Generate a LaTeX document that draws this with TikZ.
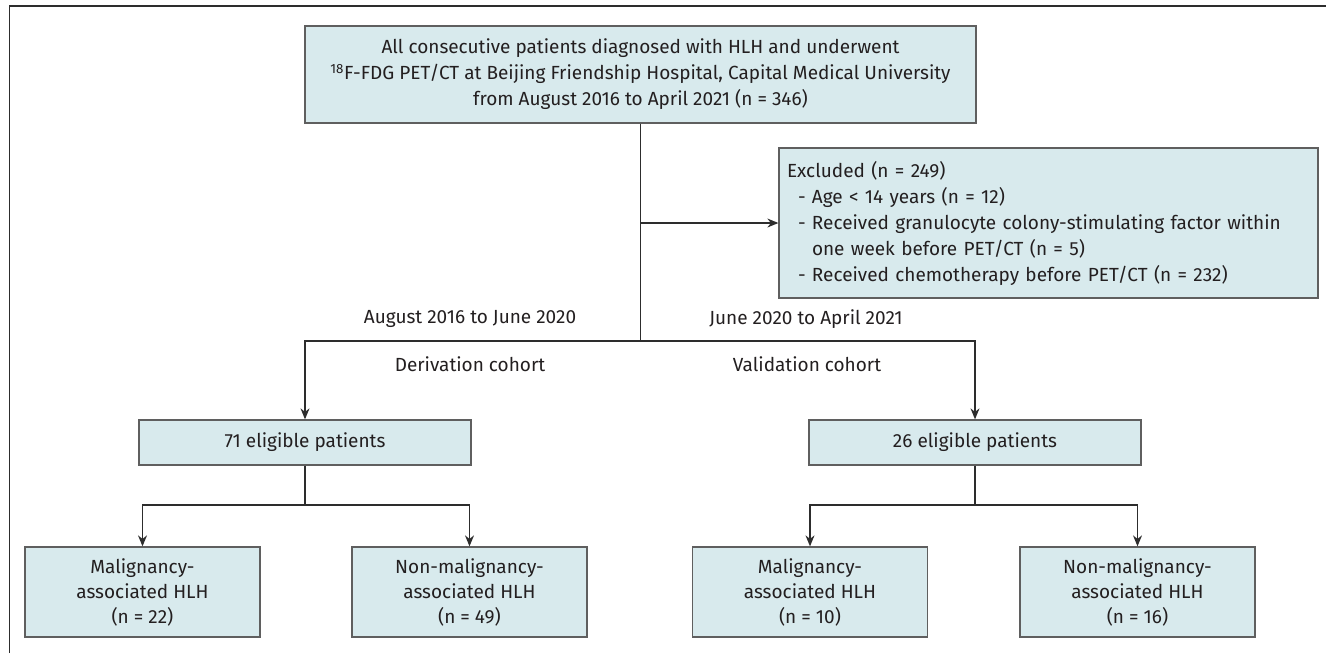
\documentclass[tikz,border=0pt]{standalone}
\usepackage{fontspec}
\setmainfont{Fira Sans}
\usetikzlibrary{arrows.meta}
\definecolor{boxfill}{RGB}{216,234,237}
\definecolor{boxdraw}{RGB}{95,95,95}
\definecolor{linecol}{RGB}{45,45,45}
\definecolor{txt}{RGB}{35,31,32}
\tikzset{
  box/.style={draw=boxdraw, fill=boxfill, line width=1.3pt, inner sep=0pt, align=center, text=txt, font=\fontsize{19}{25}\selectfont},
  conn/.style={draw=linecol, line width=1.3pt},
  arr/.style={conn, -{Stealth[length=11pt,width=9pt]}},
  lbl/.style={text=txt, inner sep=0pt, font=\fontsize{19}{23}\selectfont},
  frameline/.style={draw=linecol, line width=1.3pt}
}
\begin{document}
\begin{tikzpicture}[x=1pt,y=-1pt]
\useasboundingbox (0,0) rectangle (1330,653);
\draw[frameline] (9.5,653) -- (9.5,6) -- (1326,6);

\node[box, minimum width=671pt, minimum height=97pt, font=\fontsize{19}{26}\selectfont] (top) at (640.5,74.5)
  {All consecutive patients diagnosed with HLH and underwent\\
   \textsuperscript{18}F-FDG PET/CT at Beijing Friendship Hospital, Capital Medical University\\
   from August 2016 to April 2021 (n = 346)};

\node[box, align=left, text width=523pt, inner xsep=8pt, minimum height=150pt, font=\fontsize{19}{26}\selectfont] (excl) at (1048.5,223)
  {Excluded (n = 249)\\
   \hspace*{11pt}- Age < 14 years (n = 12)\\
   \hspace*{11pt}- Received granulocyte colony-stimulating factor within\\
   \hspace*{11pt}\phantom{- }one week before PET/CT (n = 5)\\
   \hspace*{11pt}- Received chemotherapy before PET/CT (n = 232)};

\node[box, minimum width=332pt, minimum height=45pt] (mid1) at (305,442.5) {71 eligible patients};
\node[box, minimum width=332pt, minimum height=45pt] (mid2) at (975,442.5) {26 eligible patients};

\node[box, minimum width=235pt, minimum height=90pt] (b1) at (142.5,592) {Malignancy-\\associated HLH\\(n = 22)};
\node[box, minimum width=235pt, minimum height=90pt] (b2) at (469.5,592) {Non-malignancy-\\associated HLH\\(n = 49)};
\node[box, minimum width=235pt, minimum height=90pt] (b3) at (810,592) {Malignancy-\\associated HLH\\(n = 10)};
\node[box, minimum width=235pt, minimum height=90pt] (b4) at (1137.5,592) {Non-malignancy-\\associated HLH\\(n = 16)};

\node[lbl] (l1) at (470,319) {August 2016 to June 2020};
\node[lbl] (l2) at (806,319) {June 2020 to April 2021};
\node[lbl] (l3) at (470,364) {Derivation cohort};
\node[lbl] (l4) at (807,364) {Validation cohort};

\coordinate (j1) at (640.5,341);
\coordinate (jx) at (640.5,223);
\coordinate (s1) at (305,505);
\coordinate (s2) at (975,505);

\draw[conn] (top) -- (j1);
\draw[arr] (jx) -- (excl);
\draw[arr] (j1) -| (mid1);
\draw[arr] (j1) -| (mid2);
\draw[conn] (mid1) -- (s1);
\draw[conn] (mid2) -- (s2);
\draw[arr] (s1) -| (b1);
\draw[arr] (s1) -| (b2);
\draw[arr] (s2) -| (b3);
\draw[arr] (s2) -| (b4);
\end{tikzpicture}
\end{document}
